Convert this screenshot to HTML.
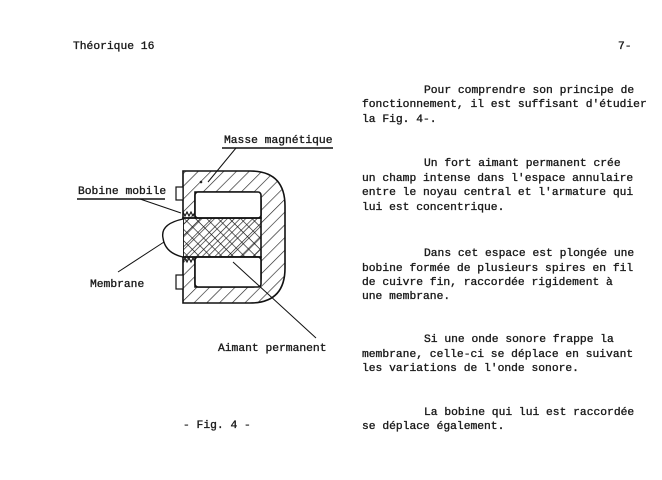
<!DOCTYPE html>
<html><head><meta charset="utf-8"><style>
html,body{margin:0;padding:0;background:#fff;width:662px;height:480px;overflow:hidden}
svg{display:block}
text{font-family:"Liberation Mono",monospace;fill:#1a1a1a;font-size:11.3px;stroke:#1a1a1a;stroke-width:0.35px}
</style></head><body>
<svg width="662" height="480" viewBox="0 0 662 480" xmlns="http://www.w3.org/2000/svg">
<defs>
<pattern id="h" width="9" height="9" patternUnits="userSpaceOnUse" patternTransform="rotate(45)">
<line x1="0" y1="0" x2="0" y2="9" stroke="#222" stroke-width="1.3"/></pattern>
<pattern id="x" width="8" height="8" patternUnits="userSpaceOnUse" patternTransform="rotate(45)">
<line x1="0" y1="0" x2="0" y2="8" stroke="#111" stroke-width="1.3"/><line x1="0" y1="0" x2="8" y2="0" stroke="#111" stroke-width="1.3"/></pattern>
</defs>
<text x="73" y="49">Théorique 16</text>
<text x="618" y="49">7-</text>

<path d="M183,171 H250 Q285,171 285,206 V268 Q285,303 250,303 H183 V257 H195 V287 H252 Q261,287 261,278 V257 H183 V218 H261 V201 Q261,192 252,192 H195 V218 H183 Z" fill="url(#h)" stroke="#111" stroke-width="1.6" fill-rule="evenodd"/>
<rect x="195" y="192" width="66" height="26" fill="#fff" stroke="#111" stroke-width="1.6" rx="3"/>
<rect x="195" y="257" width="66" height="30" fill="#fff" stroke="#111" stroke-width="1.6" rx="3"/>
<rect x="183" y="218" width="78" height="39" fill="url(#x)" stroke="#111" stroke-width="1.6"/>
<circle cx="201" cy="182" r="1.3" fill="#222"/>
<path d="M183,219 Q160,224 163,238 Q165,253 183,257" fill="#fff" stroke="#111" stroke-width="1.4"/>
<path d="M183,212 l2,4 l2,-4 l2,4 l2,-4 l2,4 l2,-4 M183,262 l2,-4 l2,4 l2,-4 l2,4 l2,-4 l2,4" fill="none" stroke="#111" stroke-width="1.1"/>
<rect x="176" y="187" width="7" height="13" fill="#fff" stroke="#111" stroke-width="1.2"/>
<rect x="176" y="275" width="7" height="14" fill="#fff" stroke="#111" stroke-width="1.2"/>

<text x="224" y="143">Masse magnétique</text>
<line x1="222" y1="148" x2="333" y2="148" stroke="#111" stroke-width="1.4"/>
<line x1="236" y1="148" x2="208" y2="182" stroke="#111" stroke-width="1"/>
<text x="78" y="194">Bobine mobile</text>
<line x1="77" y1="199" x2="165" y2="199" stroke="#111" stroke-width="1.4"/>
<line x1="140" y1="199" x2="181" y2="213" stroke="#111" stroke-width="1"/>
<text x="90" y="287">Membrane</text>
<line x1="118" y1="272" x2="164" y2="242" stroke="#111" stroke-width="1"/>
<text x="218" y="351">Aimant permanent</text>
<line x1="316" y1="338" x2="233" y2="262" stroke="#111" stroke-width="1"/>
<text x="183" y="428">- Fig. 4 -</text>

<g>
<text x="424" y="93">Pour comprendre son principe de</text>
<text x="362" y="107">fonctionnement, il est suffisant d'étudier</text>
<text x="362" y="122">la Fig. 4-.</text>
<text x="424" y="166">Un fort aimant permanent crée</text>
<text x="362" y="181">un champ intense dans l'espace annulaire</text>
<text x="362" y="195">entre le noyau central et l'armature qui</text>
<text x="362" y="210">lui est concentrique.</text>
<text x="424" y="256">Dans cet espace est plongée une</text>
<text x="362" y="271">bobine formée de plusieurs spires en fil</text>
<text x="362" y="285">de cuivre fin, raccordée rigidement à</text>
<text x="362" y="299">une membrane.</text>
<text x="424" y="342">Si une onde sonore frappe la</text>
<text x="362" y="357">membrane, celle-ci se déplace en suivant</text>
<text x="362" y="371">les variations de l'onde sonore.</text>
<text x="424" y="415">La bobine qui lui est raccordée</text>
<text x="362" y="429">se déplace également.</text>
</g>
</svg>
</body></html>
